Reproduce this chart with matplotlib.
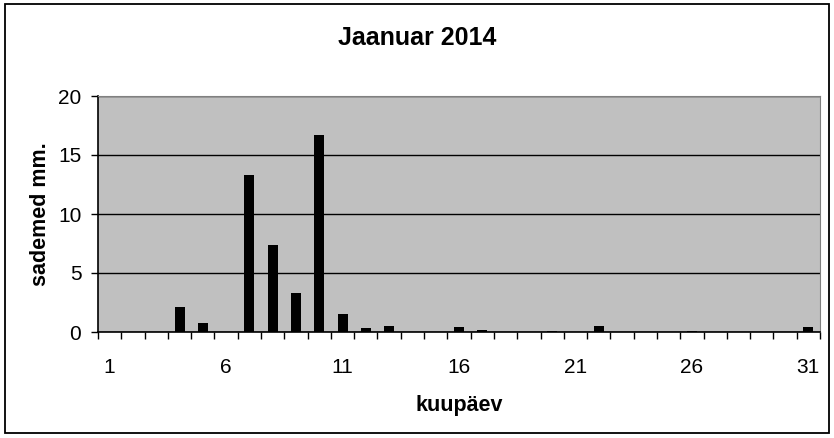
import matplotlib
matplotlib.use('Agg')
import matplotlib.pyplot as plt
from matplotlib.patches import Rectangle
from matplotlib.ticker import FixedLocator

plt.rcParams['font.family'] = ['Liberation Sans', 'DejaVu Sans']

# precipitation per day, January 2014
days = list(range(1, 32))
rain_mm = [0, 0, 0, 2.1, 0.8, 0, 13.3, 7.4, 3.3, 16.7,
           1.5, 0.3, 0.5, 0, 0, 0.4, 0.2, 0, 0, 0.1,
           0, 0.5, 0, 0, 0, 0.1, 0, 0, 0, 0, 0.4]
xtick_days = [1, 6, 11, 16, 21, 26, 31]
ytick_vals = [0, 5, 10, 15, 20]

fig = plt.figure(figsize=(8.34, 4.38), dpi=100)
fig.patch.set_facecolor('white')
fig.patches.append(Rectangle((5 / 834, 5 / 438), 824 / 834, 429 / 438,
                             transform=fig.transFigure, fill=False,
                             edgecolor='black', linewidth=1.3))

ax = fig.add_axes([98 / 834, 1 - 332 / 438, 722 / 834, 236 / 438])
ax.set_facecolor('#c0c0c0')
ax.bar(days, rain_mm, width=0.43, color='black', zorder=3)

ax.set_xlim(0.5, 31.5)
ax.set_ylim(0, 20)
ax.set_yticks(ytick_vals)
ax.yaxis.grid(True, color='black', linewidth=1.0, zorder=1)
ax.set_axisbelow(True)

ax.set_xticks(xtick_days)
ax.xaxis.set_minor_locator(FixedLocator([d + 0.5 for d in range(0, 32)]))
ax.tick_params(axis='x', which='major', length=0, pad=19, labelsize=15)
ax.tick_params(axis='x', which='minor', length=5, width=1, direction='out')
ax.tick_params(axis='y', length=5, width=1, labelsize=15, pad=7)

for side in ('top', 'right'):
    ax.spines[side].set_color('#808080')
for side in ('left', 'bottom'):
    ax.spines[side].set_color('black')
    ax.spines[side].set_linewidth(1.2)

fig.text(459 / 834, 1 - 405 / 438, 'kuupäev', ha='center', va='center',
         fontsize=15.5, fontweight='bold')
fig.text(40 / 834, 1 - 214 / 438, 'sademed mm.', ha='center', va='center',
         rotation=90, fontsize=15.5, fontweight='bold')
fig.text(417 / 834, 1 - 38 / 438, 'Jaanuar 2014', ha='center', va='center',
         fontsize=18, fontweight='bold')

fig.savefig('out.png', dpi=100)
